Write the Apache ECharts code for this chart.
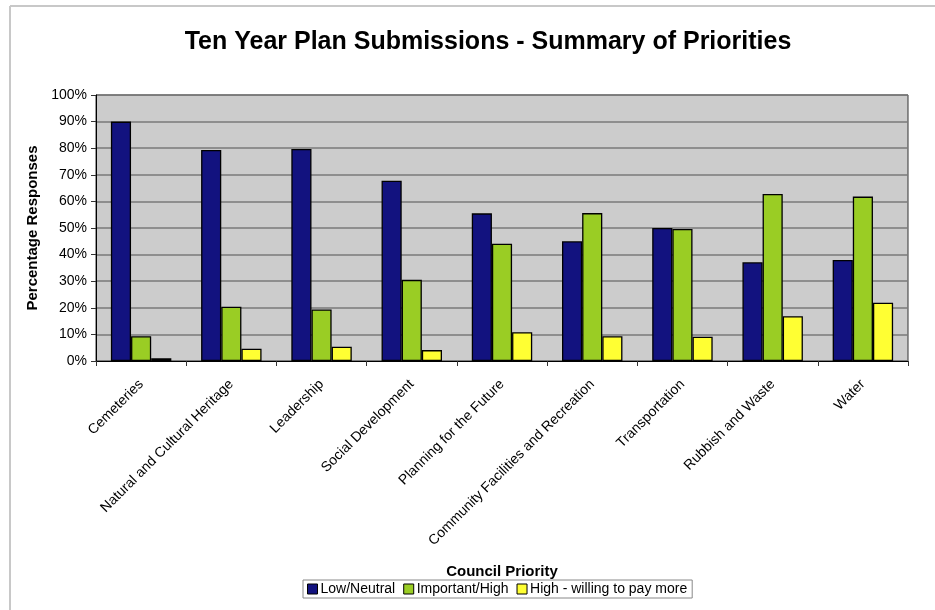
<!DOCTYPE html>
<html><head><meta charset="utf-8">
<script src="https://cdn.jsdelivr.net/npm/echarts@6/dist/echarts.min.js"></script>
<style>html,body{margin:0;padding:0;background:#fff}#c{width:935px;height:610px}</style>
</head><body><div id="c"></div>
<script>
const categories = ["Cemeteries","Natural and Cultural Heritage","Leadership","Social Development","Planning for the Future","Community Facilities and Recreation","Transportation","Rubbish and Waste","Water"];
const lowNeutral = [90, 79.3, 79.7, 67.8, 55.5, 45, 50, 37.1, 38];
const importantHigh = [9.3, 20.4, 19.4, 30.5, 44.1, 55.6, 49.6, 62.8, 61.8];
const willingToPay = [1, 4.6, 5.4, 4.1, 10.8, 9.3, 9.1, 16.8, 21.9];
const yTicks = [0,10,20,30,40,50,60,70,80,90,100];

const chart = echarts.init(document.getElementById('c'), null, {renderer:'canvas'});
const font = '"Liberation Sans", Arial, sans-serif';
const mk = (name, data, color) => ({
  name, type:'bar', data, barGap:'0%', barCategoryGap:'33%',
  itemStyle:{color, borderColor:'#000', borderWidth:1.3},
  emphasis:{disabled:true}
});
chart.setOption({
  animation:false,
  backgroundColor:'#fff',
  textStyle:{fontFamily:font},
  title:{text:'Ten Year Plan Submissions - Summary of Priorities', left:483, top:25, textAlign:'center',
    textStyle:{fontSize:25, fontWeight:'bold', color:'#000', fontFamily:font}},
  graphic:[
    {type:'line', shape:{x1:10,y1:6,x2:935,y2:6}, style:{stroke:'#c8c8c8', lineWidth:2}, silent:true},
    {type:'line', shape:{x1:10,y1:6,x2:10,y2:610}, style:{stroke:'#c8c8c8', lineWidth:2}, silent:true}
  ],
  grid:{left:96, right:27, top:95, bottom:249, show:true, backgroundColor:'#CCCCCC', borderColor:'#333', borderWidth:1},
  legend:{data:['Low/Neutral','Important/High','High - willing to pay more'], top:580, left:303,
    icon:'rect', itemWidth:10, itemHeight:10, itemGap:8, borderColor:'#888', borderWidth:1, padding:[2,5,2,4],
    textStyle:{fontSize:14, color:'#000', fontFamily:font, padding:[0,0,0,-2]},
    itemStyle:{borderColor:'#000', borderWidth:1}},
  xAxis:{type:'category', data:categories, name:'Council Priority', nameLocation:'middle', nameGap:203,
    nameTextStyle:{fontSize:15, fontWeight:'bold', color:'#000'},
    axisLine:{lineStyle:{color:'#000', width:1}},
    axisTick:{show:true, length:5, lineStyle:{color:'#333'}},
    axisLabel:{rotate:45, fontSize:14, color:'#000', margin:21, interval:0}},
  yAxis:{type:'value', min:0, max:100, interval:10, name:'Percentage Responses', nameLocation:'middle', nameGap:56,
    nameTextStyle:{fontSize:15, fontWeight:'bold', color:'#000'},
    axisLine:{show:true, lineStyle:{color:'#000'}},
    axisTick:{show:true, length:5, lineStyle:{color:'#333'}},
    splitLine:{lineStyle:{color:'#7a7a7a', width:1.5}},
    axisLabel:{fontSize:14, color:'#000', margin:9, formatter:v=>yTicks.includes(v)?v+'%':''}},
  series:[mk('Low/Neutral', lowNeutral, '#12127F'), mk('Important/High', importantHigh, '#9ACD24'), mk('High - willing to pay more', willingToPay, '#FFFF33')]
});
</script></body></html>
